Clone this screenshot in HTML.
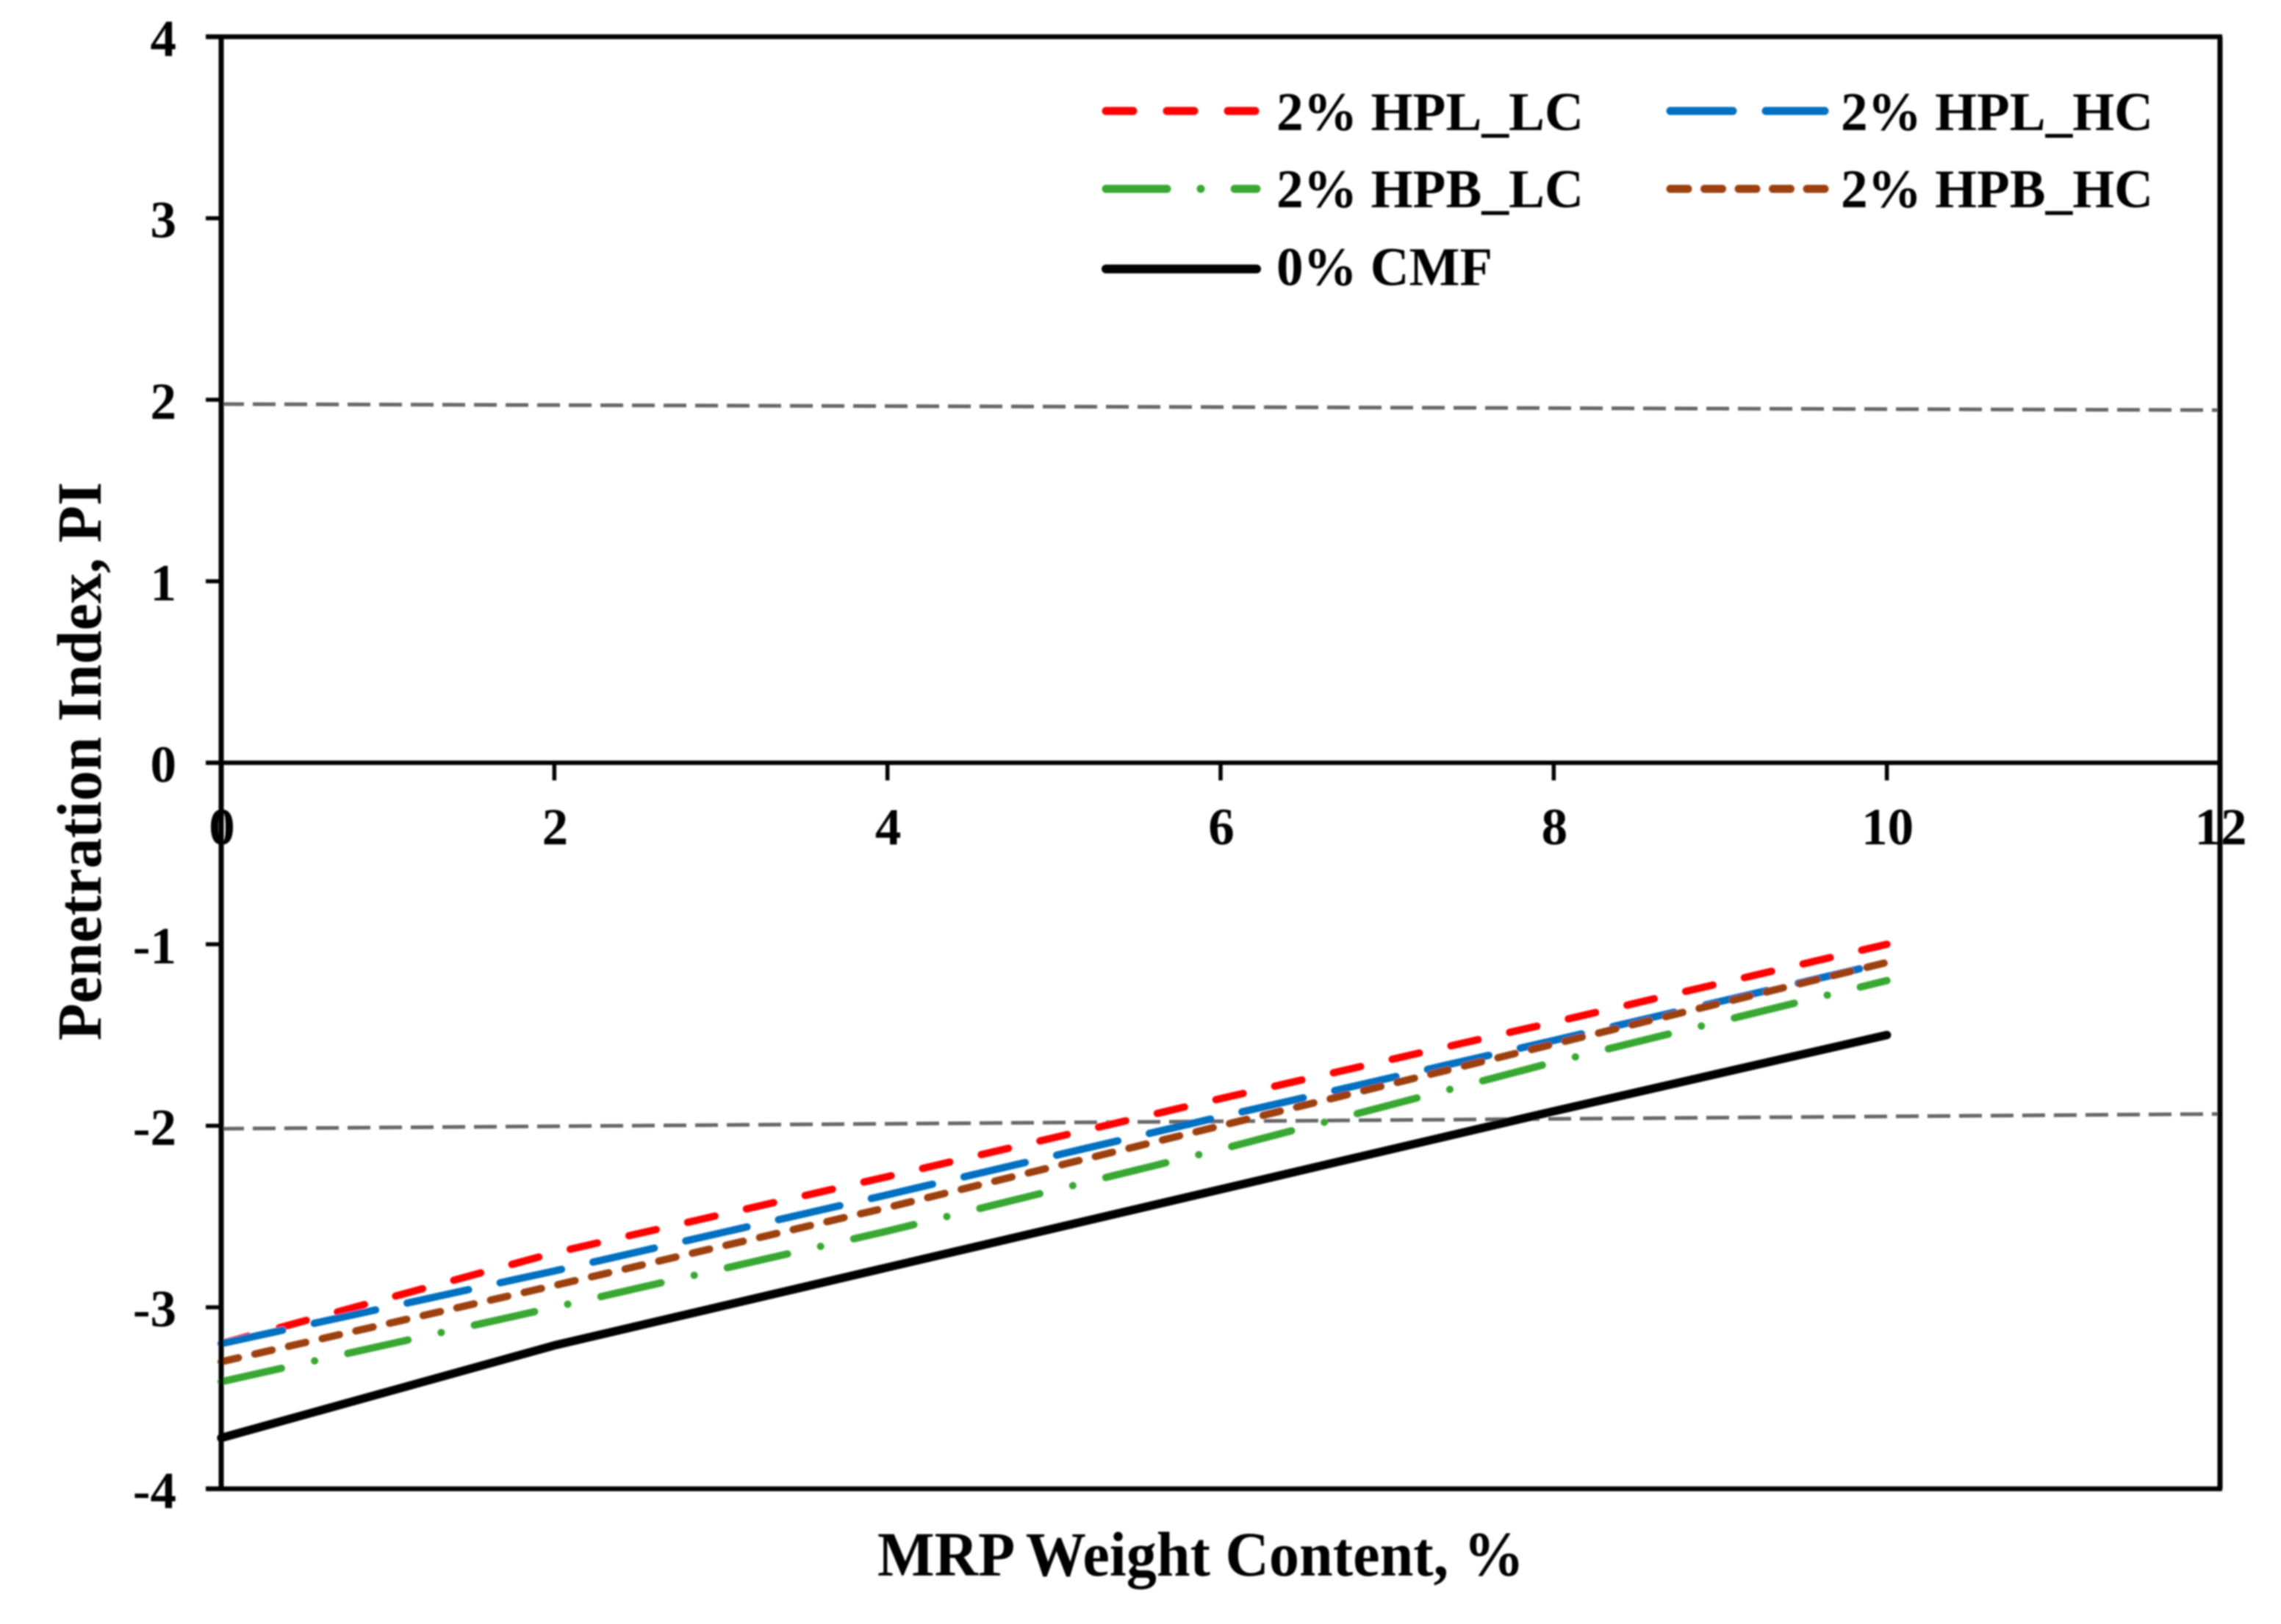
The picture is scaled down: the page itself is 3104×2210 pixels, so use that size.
<!DOCTYPE html>
<html lang="en">
<head>
<meta charset="utf-8">
<title>Penetration Index vs MRP Weight Content</title>
<style>
  html, body { margin: 0; padding: 0; background: #fff; }
  svg { display: block; }
  text { font-family: "Liberation Serif", serif; font-weight: 700; fill: #000; }
</style>
</head>
<body>
<svg id="chart" xmlns="http://www.w3.org/2000/svg" width="3104" height="2210" viewBox="0 0 3104 2210">
  <defs>
    <filter id="soft" x="-2%" y="-2%" width="104%" height="104%"><feGaussianBlur stdDeviation="1.1"/></filter>
  </defs>
  <rect x="0" y="0" width="3104" height="2210" fill="#fff"/>
  <g id="root" filter="url(#soft)">
    <g id="reference-lines"></g>
    <g id="series-lines"></g>
    <g id="axes"></g>
    <g id="tick-labels"></g>

    <text transform="translate(137,1416) rotate(-90)" font-size="86" textLength="760" lengthAdjust="spacingAndGlyphs">Penetration Index, PI</text>
    <text x="1194" y="2144" font-size="86" textLength="880" lengthAdjust="spacingAndGlyphs">MRP Weight Content, %</text>

    <g>
      <g>
        <line x1="1505" y1="151" x2="1708" y2="151" stroke="#ff0000" stroke-width="11" stroke-linecap="round" stroke-dasharray="37 46"/>
        <text x="1737" y="177" font-size="74" textLength="418" lengthAdjust="spacingAndGlyphs">2% HPL_LC</text>
      </g>
      <g>
        <line x1="2273" y1="151" x2="2483" y2="151" stroke="#0070c0" stroke-width="11" stroke-linecap="round" stroke-dasharray="85 45"/>
        <text x="2505" y="177" font-size="74" textLength="425" lengthAdjust="spacingAndGlyphs">2% HPL_HC</text>
      </g>
      <g>
        <line x1="1505" y1="257" x2="1710" y2="257" stroke="#38a832" stroke-width="11" stroke-linecap="round" stroke-dasharray="83 46 0.1 46"/>
        <text x="1737" y="282" font-size="74" textLength="418" lengthAdjust="spacingAndGlyphs">2% HPB_LC</text>
      </g>
      <g>
        <line x1="2273" y1="257" x2="2483" y2="257" stroke="#9c3f0c" stroke-width="11" stroke-linecap="round" stroke-dasharray="24 22.5"/>
        <text x="2505" y="282" font-size="74" textLength="425" lengthAdjust="spacingAndGlyphs">2% HPB_HC</text>
      </g>
      <g>
        <line x1="1505" y1="366" x2="1710" y2="366" stroke="#000" stroke-width="12" stroke-linecap="round"/>
        <text x="1737" y="388" font-size="74" textLength="294" lengthAdjust="spacingAndGlyphs">0% CMF</text>
      </g>
    </g>
  </g>
</svg>

<script>
// ---- chart data ----
const mrpContent = [0, 2, 4, 6, 8, 10];
const hplLc = [-3.2, -2.7, -2.28, -1.85, -1.43, -1.0];
const hplHc = [-3.2, -2.8, -2.38, -1.95, -1.53, -1.1];
const hpbLc = [-3.41, -3.0, -2.58, -2.13, -1.65, -1.2];
const hpbHc = [-3.3, -2.88, -2.45, -2.0, -1.55, -1.1];
const cmf0 = [-3.72, -3.21, -2.78, -2.35, -1.92, -1.5];
const refX = [0, 12];
const refUpper = [1.976, 1.943];
const refLower = [-2.016, -1.935];
const xTicks = [0, 2, 4, 6, 8, 10, 12];
const yTicks = [4, 3, 2, 1, 0, -1, -2, -3, -4];

// ---- axis functions ----
const plotLeft = 301, plotRight = 3021, plotTop = 50, plotBottom = 2026;
const xMin = 0, xMax = 12, yMin = -4, yMax = 4;
function xScale(v) { return plotLeft + (v - xMin) / (xMax - xMin) * (plotRight - plotLeft); }
function yScale(v) { return plotBottom - (v - yMin) / (yMax - yMin) * (plotBottom - plotTop); }

const NS = 'http://www.w3.org/2000/svg';
function make(tag, attrs, parent) {
  const el = document.createElementNS(NS, tag);
  for (const k in attrs) el.setAttribute(k, attrs[k]);
  parent.appendChild(el);
  return el;
}
function pointsOf(xs, ys) {
  return xs.map(function (x, i) { return xScale(x).toFixed(1) + ',' + yScale(ys[i]).toFixed(1); }).join(' ');
}

// ---- reference lines ----
const refGroup = document.getElementById('reference-lines');
const refUpperLine = make('polyline', { points: pointsOf(refX, refUpper), fill: 'none', stroke: '#666', 'stroke-width': 5, 'stroke-dasharray': '31 12' }, refGroup);


const refLowerLine = make('polyline', { points: pointsOf(refX, refLower), fill: 'none', stroke: '#666', 'stroke-width': 5, 'stroke-dasharray': '31 12' }, refGroup);



// ---- series ----
const seriesGroup = document.getElementById('series-lines');
const lineRed = make('polyline', { points: pointsOf(mrpContent, hplLc), fill: 'none', stroke: '#ff0000', 'stroke-width': 10, 'stroke-linecap': 'round', 'stroke-linejoin': 'round', 'stroke-dasharray': '38 44' }, seriesGroup);


const lineBlue = make('polyline', { points: pointsOf(mrpContent, hplHc), fill: 'none', stroke: '#0070c0', 'stroke-width': 10, 'stroke-linecap': 'round', 'stroke-linejoin': 'round', 'stroke-dasharray': '85.5 44' }, seriesGroup);


const lineGreen = make('polyline', { points: pointsOf(mrpContent, hpbLc), fill: 'none', stroke: '#38a832', 'stroke-width': 10, 'stroke-linecap': 'round', 'stroke-linejoin': 'round', 'stroke-dasharray': '84 46.2 0.1 46.2' }, seriesGroup);


const lineBrown = make('polyline', { points: pointsOf(mrpContent, hpbHc), fill: 'none', stroke: '#9c3f0c', 'stroke-width': 10, 'stroke-linecap': 'round', 'stroke-linejoin': 'round', 'stroke-dasharray': '24 23' }, seriesGroup);


const lineBlack = make('polyline', { points: pointsOf(mrpContent, cmf0), fill: 'none', stroke: '#000', 'stroke-width': 11.5, 'stroke-linecap': 'round', 'stroke-linejoin': 'round' }, seriesGroup);



// ---- axes ----
const axes = document.getElementById('axes');
const topAxis = make('line', { x1: 280, y1: yScale(yMax), x2: plotRight + 3, y2: yScale(yMax), stroke: '#000', 'stroke-width': 6.5 }, axes);


const bottomAxis = make('line', { x1: 280, y1: yScale(yMin), x2: plotRight + 3, y2: yScale(yMin), stroke: '#000', 'stroke-width': 6.5 }, axes);


const leftAxis = make('line', { x1: plotLeft, y1: yScale(yMax), x2: plotLeft, y2: yScale(yMin), stroke: '#000', 'stroke-width': 7 }, axes);


const rightAxis = make('line', { x1: plotRight, y1: yScale(yMax), x2: plotRight, y2: yScale(yMin), stroke: '#000', 'stroke-width': 7 }, axes);


const zeroAxis = make('line', { x1: 280, y1: yScale(0), x2: plotRight, y2: yScale(0), stroke: '#000', 'stroke-width': 6 }, axes);



// ---- ticks and labels ----
const labels = document.getElementById('tick-labels');
yTicks.forEach(function (v) {
  const tick = make('line', { x1: 280, y1: yScale(v), x2: plotLeft, y2: yScale(v), stroke: '#000', 'stroke-width': 5.5 }, axes);
  
  
  const label = make('text', { x: 240, y: yScale(v) + 26, 'font-size': 71, 'text-anchor': 'end' }, labels);
  label.textContent = String(v);
  
  
});
xTicks.forEach(function (v) {
  if (v !== xMin && v !== xMax) {
    const tick = make('line', { x1: xScale(v), y1: yScale(0), x2: xScale(v), y2: yScale(0) + 24, stroke: '#000', 'stroke-width': 5.5 }, axes);
    
    
  }
  const label = make('text', { x: xScale(v) + 1, y: 1149, 'font-size': 71, 'text-anchor': 'middle' }, labels);
  label.textContent = String(v);
  
  
});
</script>
</body>
</html>
